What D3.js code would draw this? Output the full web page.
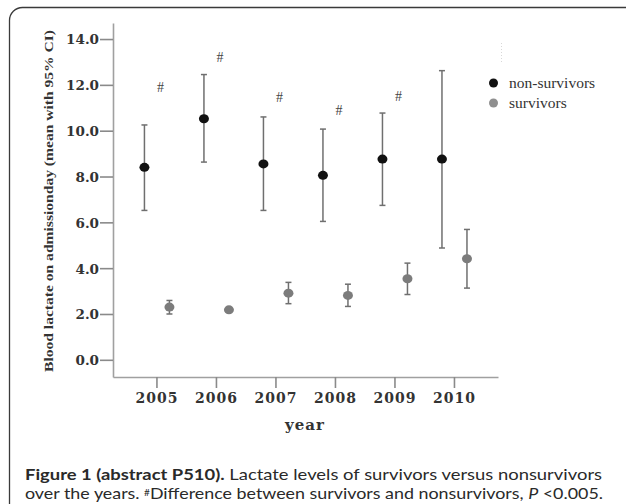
<!DOCTYPE html>
<html>
<head>
<meta charset="utf-8">
<script src="https://cdn.jsdelivr.net/npm/d3@7"></script>
<style>
  body { margin: 0; background: #fff; }
  svg { display: block; }
</style>
</head>
<body>
<script>
const width = 626;
const height = 504;

const years = [2005, 2006, 2007, 2008, 2009, 2010];
const nonMean = [8.40, 10.52, 8.55, 8.05, 8.76, 8.76];
const nonLow = [6.52, 8.63, 6.52, 6.04, 6.74, 4.88];
const nonHigh = [10.25, 12.45, 10.6, 10.07, 10.77, 12.62];
const surMean = [2.30, 2.18, 2.91, 2.81, 3.54, 4.41];
const surLow = [2.0, 2.08, 2.45, 2.33, 2.85, 3.13];
const surHigh = [2.59, 2.28, 3.38, 3.30, 4.22, 5.69];
const hashYears = [2005, 2006, 2007, 2008, 2009];
const hashValues = [11.9, 13.2, 11.45, 10.9, 11.5];
const yTicks = [0, 2, 4, 6, 8, 10, 12, 14];

const svg = d3.select('body')
    .append('svg')
    .attr('width', width)
    .attr('height', height);

// frame (runs off the right and bottom edges)
svg.append('rect')
    .attr('x', 9.5)
    .attr('y', 7.5)
    .attr('width', 630)
    .attr('height', 512)
    .attr('rx', 13)
    .attr('fill', 'none')
    .attr('stroke', '#3a3a3a')
    .attr('stroke-width', 1.3);

const x = d3.scaleLinear()
    .domain([2004.27, 2010.74])
    .range([113, 498]);

const y = d3.scaleLinear()
    .domain([-0.75, 14.7])
    .range([377, 23]);

const axisColor = '#a0a0a0';
const serif = '"DejaVu Serif", serif';

const yAxis = svg.append('g')
    .attr('transform', 'translate(113,0)')
    .call(d3.axisLeft(y)
        .tickValues(yTicks)
        .tickSize(13)
        .tickSizeOuter(0)
        .tickPadding(1)
        .tickFormat(d3.format('.1f')));

const xAxis = svg.append('g')
    .attr('transform', 'translate(0,377)')
    .call(d3.axisBottom(x)
        .tickValues(years)
        .tickSize(11)
        .tickSizeOuter(0)
        .tickPadding(5)
        .tickFormat(d3.format('d')));

[yAxis, xAxis].forEach(g => {
    g.select('.domain').attr('stroke', axisColor).attr('stroke-width', 1.6);
    g.selectAll('.tick line').attr('stroke', '#8a8a8a').attr('stroke-width', 1.6);
    g.selectAll('.tick text')
        .attr('fill', '#333')
        .style('font-family', serif)
        .style('font-weight', 'bold');
});
yAxis.selectAll('.tick text').style('font-size', '13.5px').attr('dy', '0.36em');
xAxis.selectAll('.tick text').style('font-size', '14px').style('letter-spacing', '1px');

// error bars
const drawSeries = (means, lows, highs, offset, fill) => {
    const g = svg.append('g');
    const rows = years.map((yr, i) => ({ yr, m: means[i], lo: lows[i], hi: highs[i] }));
    const cx = d => x(d.yr) + offset;

    g.selectAll('line.bar')
        .data(rows)
        .join('line')
        .attr('x1', cx).attr('x2', cx)
        .attr('y1', d => y(d.lo)).attr('y2', d => y(d.hi))
        .attr('stroke', '#6f6f6f')
        .attr('stroke-width', 1.5);

    ['lo', 'hi'].forEach(k => {
        g.selectAll('line.cap-' + k)
            .data(rows)
            .join('line')
            .attr('x1', d => cx(d) - 3).attr('x2', d => cx(d) + 3)
            .attr('y1', d => y(d[k])).attr('y2', d => y(d[k]))
            .attr('stroke', '#6f6f6f')
            .attr('stroke-width', 1.5);
    });

    g.selectAll('ellipse')
        .data(rows)
        .join('ellipse')
        .attr('cx', cx)
        .attr('cy', d => y(d.m))
        .attr('rx', 5)
        .attr('ry', 4.5)
        .attr('fill', fill);
};

drawSeries(nonMean, nonLow, nonHigh, -12, '#111');
drawSeries(surMean, surLow, surHigh, 13, '#7c7c7c');

// significance marks
svg.append('g')
    .selectAll('text')
    .data(hashYears.map((yr, i) => ({ yr, v: hashValues[i] })))
    .join('text')
    .attr('x', d => x(d.yr) + 4)
    .attr('y', d => y(d.v))
    .attr('dy', '0.35em')
    .attr('text-anchor', 'middle')
    .attr('fill', '#444')
    .style('font-family', '"Liberation Serif", serif')
    .style('font-size', '14px')
    .text('#');

// legend
const legend = svg.append('g');
const legendItems = [
    { label: 'non-survivors', fill: '#111', y: 83 },
    { label: 'survivors', fill: '#8f8f8f', y: 103 }
];
legend.selectAll('circle')
    .data(legendItems)
    .join('circle')
    .attr('cx', 493.5)
    .attr('cy', d => d.y)
    .attr('r', 4.5)
    .attr('fill', d => d.fill);
legend.selectAll('text')
    .data(legendItems)
    .join('text')
    .attr('x', 509)
    .attr('y', d => d.y)
    .attr('dy', '0.3em')
    .attr('fill', '#333')
    .style('font-family', '"Liberation Serif", serif')
    .style('font-size', '15.5px')
    .text(d => d.label);

// faint mark above legend
svg.append('line')
    .attr('x1', 501.5).attr('x2', 501.5)
    .attr('y1', 43).attr('y2', 63)
    .attr('stroke', '#d8d8d8')
    .attr('stroke-dasharray', '1,2');

// axis titles
svg.append('text')
    .attr('transform', 'translate(48,201) rotate(-90)')
    .attr('text-anchor', 'middle')
    .attr('dy', '0.35em')
    .attr('textLength', 342)
    .attr('lengthAdjust', 'spacingAndGlyphs')
    .attr('fill', '#333')
    .style('font-family', '"Liberation Serif", serif')
    .style('font-weight', 'bold')
    .style('font-size', '13px')
    .text('Blood lactate on admissionday (mean with 95% CI)');

svg.append('text')
    .attr('x', 305)
    .attr('y', 430)
    .attr('text-anchor', 'middle')
    .attr('fill', '#333')
    .style('font-family', serif)
    .style('font-weight', 'bold')
    .style('font-size', '15px')
    .style('letter-spacing', '1px')
    .text('year');

// caption
const cap1 = svg.append('text')
    .attr('x', 25)
    .attr('y', 480)
    .attr('textLength', 577)
    .attr('lengthAdjust', 'spacingAndGlyphs')
    .attr('fill', '#2a2a2a')
    .style('font-family', 'Lato, sans-serif')
    .style('font-size', '16px');
cap1.append('tspan').style('font-weight', 'bold').text('Figure 1 (abstract P510).');
cap1.append('tspan').text(' Lactate levels of survivors versus nonsurvivors');

const cap2 = svg.append('text')
    .attr('x', 25)
    .attr('y', 499)
    .attr('textLength', 578)
    .attr('lengthAdjust', 'spacingAndGlyphs')
    .attr('fill', '#2a2a2a')
    .style('font-family', 'Lato, sans-serif')
    .style('font-size', '16px');
cap2.append('tspan').text('over the years. ');
cap2.append('tspan').attr('baseline-shift', '35%').style('font-size', '9px').text('#');
cap2.append('tspan').text('Difference between survivors and nonsurvivors, ');
cap2.append('tspan').style('font-style', 'italic').text('P');
cap2.append('tspan').text(' <0.005.');
</script>
</body>
</html>
